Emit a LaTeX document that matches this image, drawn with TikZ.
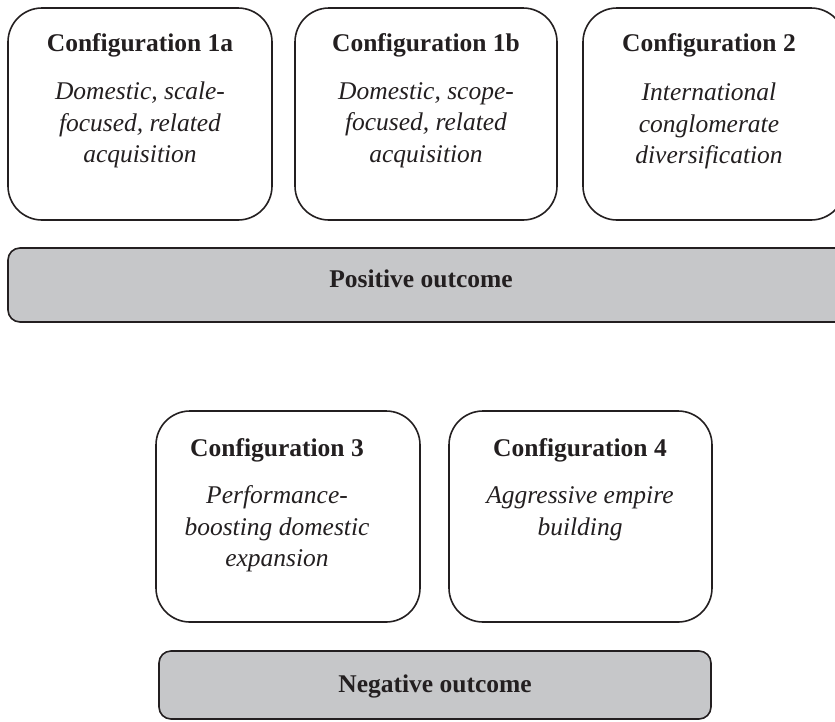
\documentclass[tikz,border=0pt]{standalone}
\usepackage{fontspec}
\setmainfont{Liberation Serif}
\definecolor{barfill}{HTML}{C6C7C9}
\definecolor{ink}{HTML}{231F20}
\begin{document}
\begin{tikzpicture}[x=1pt,y=-1pt,
  cfgbox/.style={draw=ink,line width=1.6pt,rounded corners=34pt},
  barbox/.style={draw=ink,line width=1.6pt,rounded corners=12pt,fill=barfill},
  ttl/.style={font=\fontsize{25.5}{31.5}\selectfont\bfseries,text=ink,inner sep=0pt},
  body/.style={font=\fontsize{25.5}{31.5}\selectfont\itshape,text=ink,align=center,inner sep=0pt}]
\useasboundingbox (0,0) rectangle (835,721);
\begin{scope}
\clip (0,0) rectangle (835,721);
% boxes
\draw[cfgbox] (8,8) rectangle (272,220);
\draw[cfgbox] (295,8) rectangle (557,220);
\draw[cfgbox] (583,8) rectangle (845,220);
\draw[barbox] (8,248) rectangle (848,322);
\draw[cfgbox] (156,411) rectangle (420,622);
\draw[cfgbox] (449,411) rectangle (712,622);
\draw[barbox] (159,651) rectangle (711,719);
\end{scope}
% texts
\node[ttl] (t1a) at (140,45) {Configuration 1a};
\node[body] (b1a) at (140,125) {Domestic, scale-\\focused, related\\acquisition};
\node[ttl] (t1b) at (426,45) {Configuration 1b};
\node[body] (b1b) at (426,125) {Domestic, scope-\\focused, related\\acquisition};
\node[ttl] (t2) at (709,45) {Configuration 2};
\node[body] (b2) at (709,126) {International\\conglomerate\\diversification};
\node[ttl] (pos) at (421,279) {Positive outcome};
\node[ttl] (t3) at (277,450) {Configuration 3};
\node[body] (b3) at (277,529) {Performance-\\boosting domestic\\expansion};
\node[ttl] (t4) at (580,450) {Configuration 4};
\node[body] (b4) at (580,514) {Aggressive empire\\building};
\node[ttl] (neg) at (435,686) {Negative outcome};
\end{tikzpicture}
\end{document}
